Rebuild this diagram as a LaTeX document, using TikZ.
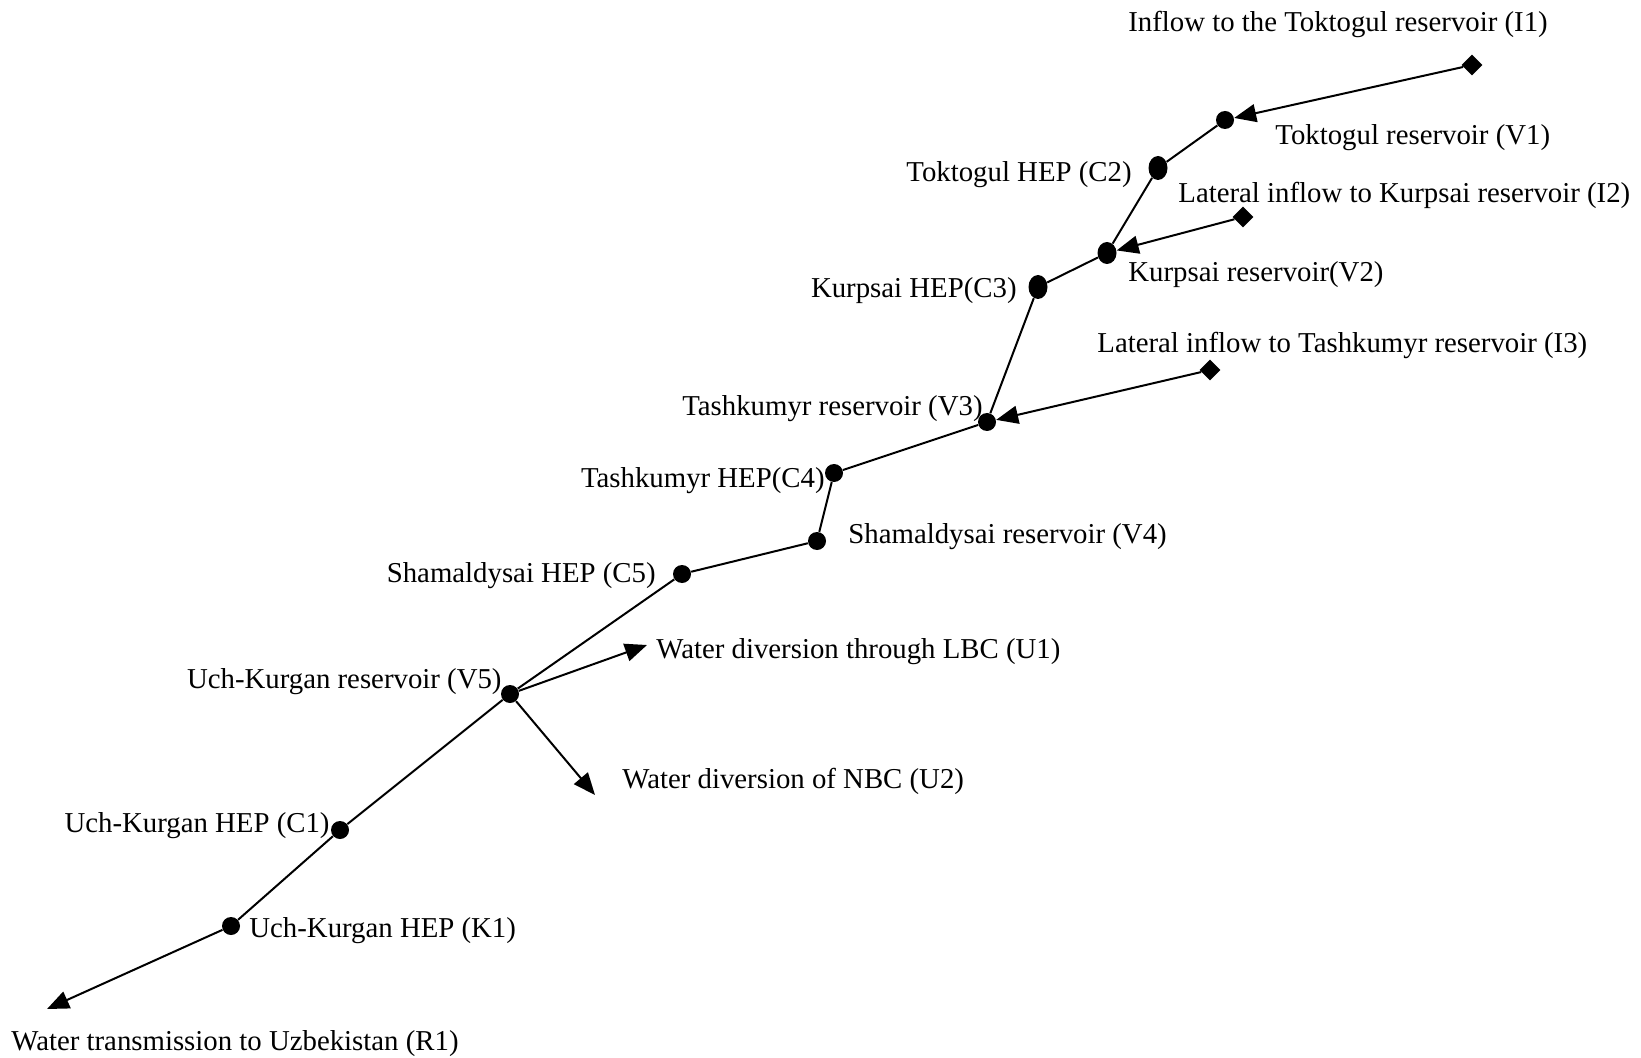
\documentclass[tikz,border=0pt]{standalone}
\usepackage{fontspec}
\setmainfont{Liberation Serif}
\usetikzlibrary{arrows.meta,shapes.geometric}
\begin{document}
\begin{tikzpicture}[x=0.5pt,y=-0.5pt,
 dot/.style={circle,fill=black,inner sep=0pt,minimum size=9pt},
 edot/.style={ellipse,fill=black,inner sep=0pt,minimum width=9.5pt,minimum height=12pt},
 src/.style={diamond,fill=black,inner sep=0pt,minimum size=10.5pt},
 lbl/.style={inner sep=0pt,font=\fontsize{14.4pt}{17pt}\selectfont},
 link/.style={line width=1pt},
 flow/.style={line width=1pt,-{Triangle[length=11pt,width=9pt]}}]
\useasboundingbox (0,0) rectangle (1641,1058);
% nodes
\node[src]  (I1) at (1472,65) {};
\node[dot]  (V1) at (1225,120) {};
\node[edot] (C2) at (1158,168) {};
\node[src]  (I2) at (1243,217) {};
\node[edot,minimum width=9.5pt,minimum height=11pt] (V2) at (1107,253) {};
\node[edot] (C3) at (1038,287) {};
\node[src]  (I3) at (1210,370) {};
\node[dot]  (V3) at (987,422) {};
\node[dot]  (C4) at (834,473) {};
\node[dot]  (V4) at (817,541) {};
\node[dot]  (C5) at (682,574) {};
\node[dot]  (V5) at (510,694) {};
\node[dot]  (C1) at (340,830) {};
\node[dot]  (K1) at (231,926) {};
\coordinate (U1) at (647,645);
\coordinate (U2) at (595,795);
\coordinate (R1) at (47,1009);
% labels
\node[lbl] (tI1) at (1338,24) {Inflow to the Toktogul reservoir (I1)};
\node[lbl,anchor=west] (tV1) at (1275,138) {Toktogul reservoir (V1)};
\node[lbl,anchor=east] (tC2) at (1132,175) {Toktogul HEP (C2)};
\node[lbl,anchor=west] (tI2) at (1178,195) {Lateral inflow to Kurpsai reservoir (I2)};
\node[lbl,anchor=west] (tV2) at (1128,275) {Kurpsai reservoir(V2)};
\node[lbl,anchor=east] (tC3) at (1017,291) {Kurpsai HEP(C3)};
\node[lbl,anchor=west] (tI3) at (1097,345) {Lateral inflow to Tashkumyr reservoir (I3)};
\node[lbl,anchor=east] (tV3) at (983,409) {Tashkumyr reservoir (V3)};
\node[lbl,anchor=east] (tC4) at (825,481) {Tashkumyr HEP(C4)};
\node[lbl,anchor=west] (tV4) at (848,537) {Shamaldysai reservoir (V4)};
\node[lbl,anchor=east] (tC5) at (656,576) {Shamaldysai HEP (C5)};
\node[lbl,anchor=west] (tU1) at (656,652) {Water diversion through LBC (U1)};
\node[lbl,anchor=east] (tV5) at (502,682) {Uch-Kurgan reservoir (V5)};
\node[lbl,anchor=west] (tU2) at (622,781) {Water diversion of NBC (U2)};
\node[lbl,anchor=east] (tC1) at (330,826) {Uch-Kurgan HEP (C1)};
\node[lbl,anchor=west] (tK1) at (249,931) {Uch-Kurgan HEP (K1)};
\node[lbl,anchor=west] (tR1) at (11,1044) {Water transmission to Uzbekistan (R1)};
% connectors
\draw[link] (V1) -- (C2);
\draw[link] (C2) -- (V2);
\draw[link] (V2) -- (C3);
\draw[link] (C3) -- (V3);
\draw[link] (V3) -- (C4);
\draw[link] (C4) -- (V4);
\draw[link] (V4) -- (C5);
\draw[link] (C5) -- (V5);
\draw[link] (V5) -- (C1);
\draw[link] (C1) -- (K1);
\draw[flow] (I1) -- (V1);
\draw[flow] (I2) -- (V2);
\draw[flow] (I3) -- (V3);
\draw[flow] (V5) -- (U1);
\draw[flow] (V5) -- (U2);
\draw[flow] (K1) -- (R1);
\end{tikzpicture}
\end{document}
